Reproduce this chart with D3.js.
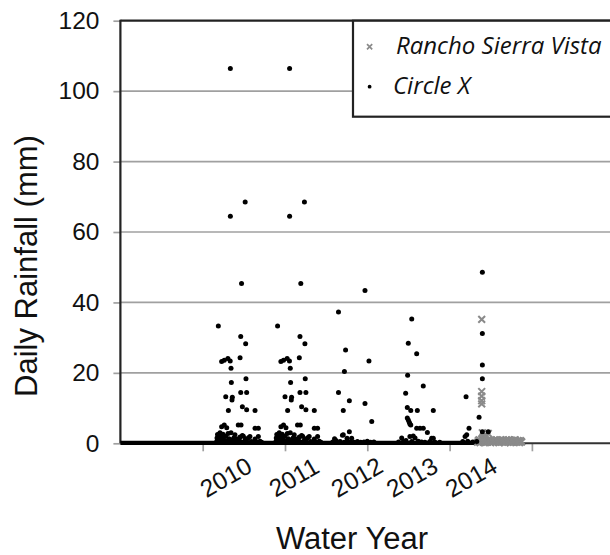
<!DOCTYPE html>
<html>
<head>
<meta charset="utf-8">
<script src="https://cdn.jsdelivr.net/npm/d3@7"></script>
<style>
  html, body { margin: 0; padding: 0; background: #fff; }
  svg { display: block; }
</style>
</head>
<body>
<svg id="chart"></svg>
<script>
// y axis ticks (mm) and x axis ticks (days since start of record)
var yTicks = [0, 20, 40, 60, 80, 100, 120];
var xTicks = [500, 1000, 1500, 2000, 2500];

// water year labels and where they sit along the day axis
var yearLabels = ["2010", "2011", "2012", "2013", "2014"];
var yearLabelDays = [641, 1055, 1437, 1772, 2131];

// days with zero rain draw a solid run of dots along the baseline
var circleXRecord = [0, 2170];

// Circle X daily rainfall [day, mm], one array per water year
var circleX2010 = [
  [668, 106.4], [668, 64.5], [758, 68.5], [736, 45.4], [595, 33.3], [731, 30.3], [761, 28.3],
  [615, 23.2], [631, 23.6], [653, 24.1], [667, 23.4], [727, 24.3], [672, 21.3], [674, 17.3],
  [763, 18.3], [640, 13.2], [680, 13.1], [678, 12.3], [731, 14.4], [767, 14.4], [656, 9.3],
  [741, 10.4], [767, 9.5], [818, 9.3], [615, 4.7], [631, 5.2], [646, 4.4], [716, 5.2],
  [733, 5.2], [818, 4.3], [838, 4.3],
  [585, 0.5], [587, 1.5], [590, 2.5], [595, 0.8], [599, 2.0], [602, 1.2], [605, 3.0],
  [610, 0.6], [615, 1.8], [620, 0.4], [623, 2.6], [628, 1.0], [631, 0.3], [640, 2.0],
  [646, 0.7], [654, 2.8], [660, 1.3], [666, 0.5], [672, 3.0], [678, 1.0], [684, 0.4],
  [690, 1.6], [696, 2.4], [702, 0.6], [710, 1.2], [716, 0.3], [722, 0.8], [727, 1.8],
  [735, 0.4], [741, 2.2], [747, 2.0], [755, 0.6], [760, 1.2], [770, 0.4], [778, 1.6],
  [787, 1.9], [795, 0.5], [805, 0.3], [818, 1.2], [830, 0.4], [838, 1.9], [848, 0.6], [858, 0.3]
];
var circleX2011 = [
  [1028, 106.4], [1028, 64.5], [1118, 68.5], [1096, 45.4], [955, 33.3], [1091, 30.3], [1121, 28.3],
  [975, 23.2], [991, 23.6], [1013, 24.1], [1027, 23.4], [1087, 24.3], [1032, 21.3], [1034, 17.3],
  [1123, 18.3], [1000, 13.2], [1040, 13.1], [1038, 12.3], [1091, 14.4], [1127, 14.4], [1016, 9.3],
  [1101, 10.4], [1127, 9.5], [1178, 9.3], [975, 4.7], [991, 5.2], [1006, 4.4], [1076, 5.2],
  [1093, 5.2], [1178, 4.3], [1198, 4.3],
  [945, 0.5], [947, 1.5], [950, 2.5], [955, 0.8], [959, 2.0], [962, 1.2], [965, 3.0],
  [970, 0.6], [975, 1.8], [980, 0.4], [983, 2.6], [988, 1.0], [991, 0.3], [1000, 2.0],
  [1006, 0.7], [1014, 2.8], [1020, 1.3], [1026, 0.5], [1032, 3.0], [1038, 1.0], [1044, 0.4],
  [1050, 1.6], [1056, 2.4], [1062, 0.6], [1070, 1.2], [1076, 0.3], [1082, 0.8], [1087, 1.8],
  [1095, 0.4], [1101, 2.2], [1107, 2.0], [1115, 0.6], [1120, 1.2], [1130, 0.4], [1138, 1.6],
  [1147, 1.9], [1155, 0.5], [1165, 0.3], [1178, 1.2], [1190, 0.4], [1198, 1.9], [1208, 0.6], [1218, 0.3]
];
var circleX2012 = [
  [1325, 37.3], [1368, 26.5], [1361, 20.4], [1325, 14.4], [1354, 9.3], [1391, 12.1],
  [1486, 43.4], [1510, 23.4], [1486, 11.3], [1527, 6.2], [1391, 3.3], [1354, 2.4],
  [1301, 1.3], [1349, 2.3], [1377, 1.4], [1405, 1.4],
  [1290, 0.4], [1310, 0.8], [1335, 0.5], [1360, 0.3], [1380, 0.6], [1400, 0.4], [1420, 0.3],
  [1440, 0.5], [1460, 0.3], [1480, 0.4], [1500, 0.6], [1520, 0.3], [1540, 0.4]
];
var circleX2013 = [
  [1770, 35.3], [1749, 28.4], [1800, 25.4], [1745, 19.3], [1840, 16.3], [1733, 14.2],
  [1743, 10.2], [1764, 9.3], [1804, 9.3], [1901, 9.3], [1743, 7.2], [1749, 6.6], [1755, 6.0],
  [1759, 5.5], [1764, 5.2], [1800, 4.3], [1820, 4.3], [1840, 4.3], [1865, 3.1],
  [1709, 1.5], [1759, 1.9], [1779, 2.1], [1790, 1.5], [1891, 1.4], [1901, 1.4],
  [1690, 0.4], [1720, 0.6], [1735, 0.8], [1770, 0.5], [1810, 0.6], [1830, 0.4], [1850, 0.3],
  [1880, 0.5], [1910, 0.4], [1940, 0.3]
];
var circleX2014 = [
  [2199, 48.6], [2199, 31.2], [2199, 22.2], [2199, 18.3], [2100, 13.2], [2179, 7.4],
  [2118, 4.3], [2104, 2.4], [2094, 1.9], [2199, 3.3], [2235, 3.3],
  [2080, 0.5], [2110, 0.6], [2140, 0.4], [2165, 0.5]
];

// Rancho Sierra Vista daily rainfall [day, mm]
var ranchoSierraVista = [
  [2195, 35.2], [2195, 14.7], [2195, 13.4], [2195, 12.1], [2195, 11.2],
  [2199, 3.0], [2215, 2.4], [2235, 2.8], [2205, 1.9], [2225, 2.0],
  [2170, 0.3], [2175, 0.8], [2180, 1.0], [2185, 0.2], [2190, 0.5], [2195, 1.1], [2200, 1.3],
  [2205, 0.4], [2210, 0.2], [2215, 1.0], [2220, 0.8], [2225, 0.3], [2230, 0.4], [2235, 0.9],
  [2240, 1.0], [2245, 0.5], [2250, 0.2], [2255, 0.9], [2260, 0.6], [2265, 0.3], [2270, 0.9],
  [2275, 0.5], [2280, 0.3], [2285, 1.0], [2290, 0.7], [2295, 0.4], [2300, 0.2], [2305, 0.8],
  [2310, 1.0], [2315, 0.5], [2320, 0.4], [2325, 0.9], [2330, 0.8], [2335, 0.2], [2340, 0.3],
  [2345, 1.0], [2350, 0.6], [2355, 0.3], [2360, 1.0], [2365, 0.6], [2370, 0.2], [2375, 0.9],
  [2380, 0.7], [2385, 0.3], [2390, 0.4], [2395, 1.0], [2400, 0.9], [2405, 0.5], [2410, 0.3],
  [2415, 0.8], [2420, 0.6], [2425, 0.2], [2430, 0.8], [2434, 0.5], [2438, 0.4]
];

var circleX = [].concat(circleX2010, circleX2011, circleX2012, circleX2013, circleX2014);

var legendItems = ["Rancho Sierra Vista", "Circle X"];

var W = 610, H = 555;
var svg = d3.select("#chart").attr("width", W).attr("height", H);

var x = d3.scaleLinear().domain([0, 3000]).range([120.4, 614.2]);
var y = d3.scaleLinear().domain([0, 120]).range([443.3, 20.7]);

var gridColor = "#a0a0a0", frameColor = "#222", greyMark = "#8a8a8a";
var sans = "'Liberation Sans', Arial, sans-serif";

// gridlines
svg.append("g")
  .selectAll("line")
  .data(yTicks.filter(function(d) { return d > 0 && d < 120; }))
  .join("line")
    .attr("x1", x(0)).attr("x2", W)
    .attr("y1", function(d) { return y(d); })
    .attr("y2", function(d) { return y(d); })
    .attr("stroke", gridColor)
    .attr("stroke-width", 1.7);

// y axis ticks + labels
var yAxis = svg.append("g")
  .attr("transform", "translate(" + x(0) + ",0)")
  .call(d3.axisLeft(y).tickValues(yTicks).tickSize(7).tickPadding(14));
yAxis.select(".domain").remove();
yAxis.selectAll(".tick line").attr("stroke", gridColor).attr("stroke-width", 1.7);
yAxis.selectAll(".tick text")
  .attr("font-family", sans)
  .attr("font-size", 24.5)
  .attr("fill", "#111");

// x axis ticks (no labels)
var xAxis = svg.append("g")
  .attr("transform", "translate(0," + y(0) + ")")
  .call(d3.axisBottom(x).tickValues(xTicks).tickSize(8).tickFormat(""));
xAxis.select(".domain").remove();
xAxis.selectAll(".tick line").attr("stroke", gridColor).attr("stroke-width", 1.7);

// frame: top, left, baseline
svg.append("line")
  .attr("x1", x(0)).attr("x2", W).attr("y1", y(120)).attr("y2", y(120))
  .attr("stroke", frameColor).attr("stroke-width", 2.2);
svg.append("line")
  .attr("x1", x(0)).attr("x2", x(0)).attr("y1", y(120) - 1).attr("y2", y(0))
  .attr("stroke", frameColor).attr("stroke-width", 2.2);
svg.append("line")
  .attr("x1", x(0)).attr("x2", W).attr("y1", y(0)).attr("y2", y(0))
  .attr("stroke", "#333").attr("stroke-width", 2);

// zero-rain days of Circle X
svg.append("line")
  .attr("x1", x(circleXRecord[0])).attr("x2", x(circleXRecord[1]))
  .attr("y1", y(0) - 0.5).attr("y2", y(0) - 0.5)
  .attr("stroke", "#000").attr("stroke-width", 4.2);

// Rancho Sierra Vista crosses
var s = 3.4;
svg.append("g")
  .selectAll("path")
  .data(ranchoSierraVista)
  .join("path")
    .attr("d", function(d) {
      var cx = x(d[0]), cy = y(d[1]);
      return "M" + (cx - s) + "," + (cy - s) + "L" + (cx + s) + "," + (cy + s) +
             "M" + (cx - s) + "," + (cy + s) + "L" + (cx + s) + "," + (cy - s);
    })
    .attr("stroke", greyMark)
    .attr("stroke-width", 2)
    .attr("fill", "none");

// Circle X dots
svg.append("g")
  .selectAll("circle")
  .data(circleX)
  .join("circle")
    .attr("cx", function(d) { return x(d[0]); })
    .attr("cy", function(d) { return y(d[1]); })
    .attr("r", 2.5)
    .attr("fill", "#000");

// year labels
svg.append("g")
  .selectAll("text")
  .data(yearLabels)
  .join("text")
    .attr("transform", function(d, i) {
      return "translate(" + x(yearLabelDays[i]) + "," + (y(0) + 34) + ") rotate(-30)";
    })
    .attr("text-anchor", "middle")
    .attr("dominant-baseline", "central")
    .attr("font-family", sans)
    .attr("font-size", 24.5)
    .attr("fill", "#111")
    .text(function(d) { return d; });

// axis titles
svg.append("text")
  .attr("x", 352).attr("y", 549)
  .attr("text-anchor", "middle")
  .attr("font-family", sans)
  .attr("font-size", 31)
  .attr("fill", "#111")
  .text("Water Year");

svg.append("text")
  .attr("transform", "translate(37," + ((y(0) + y(120)) / 2 + 34) + ") rotate(-90)")
  .attr("text-anchor", "middle")
  .attr("font-family", sans)
  .attr("font-size", 31)
  .attr("fill", "#111")
  .text("Daily Rainfall (mm)");

// legend
var legend = svg.append("g").attr("transform", "translate(353," + y(120) + ")");
legend.append("rect")
  .attr("width", 270).attr("height", 96)
  .attr("fill", "#fff")
  .attr("stroke", frameColor).attr("stroke-width", 2.2);

var rowY = [26, 66];
legend.append("path")
  .attr("d", "M14," + (rowY[0] - 2.6) + "l5.2,5.2M14," + (rowY[0] + 2.6) + "l5.2,-5.2")
  .attr("stroke", greyMark).attr("stroke-width", 1.7);
legend.append("circle")
  .attr("cx", 16.6).attr("cy", rowY[1]).attr("r", 1.9).attr("fill", "#000");

legend.selectAll("text")
  .data(legendItems)
  .join("text")
    .attr("x", function(d, i) { return i === 0 ? 43 : 40; })
    .attr("y", function(d, i) { return rowY[i] + 7; })
    .attr("font-family", "'Open Sans', 'Noto Sans', sans-serif")
    .attr("font-style", "italic")
    .attr("font-size", 24)
    .attr("fill", "#111")
    .text(function(d) { return d; });
</script>
</body>
</html>
